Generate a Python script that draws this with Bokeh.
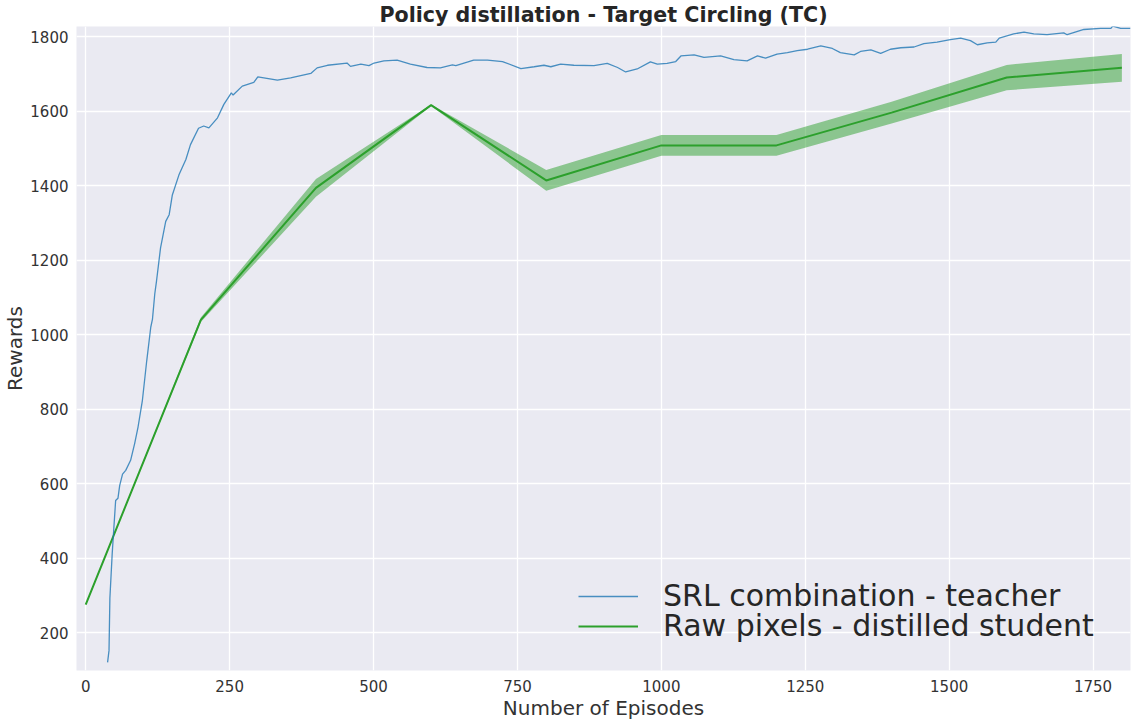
from bokeh.plotting import figure
from bokeh.models import Range1d, FixedTicker, Legend, LegendItem, ColumnDataSource
from bokeh.embed import file_html
from bokeh.resources import INLINE

# ---- data ----
teacher_x = [38, 40.5, 42, 46, 49, 52, 56, 59, 64, 69.5, 78, 85, 91, 98.5, 106, 113, 116, 120, 123, 130,
             139, 145, 150.5, 162, 174, 182, 196, 205, 214, 229, 240, 253, 256, 272, 292, 299, 333, 356,
             391, 402, 420, 454, 460, 478, 492, 501, 518, 541, 564, 593, 616, 637, 643, 674, 698, 724,
             756, 779, 796, 808, 825, 848, 883, 906, 924, 938, 958, 981, 993, 1010, 1025, 1034, 1057,
             1074, 1103, 1126, 1149, 1167, 1181, 1201, 1219, 1236, 1254, 1277, 1297, 1311, 1335, 1346,
             1364, 1381, 1398, 1416, 1439, 1456, 1479, 1502, 1520, 1537, 1549, 1566, 1581, 1587, 1612,
             1630, 1647, 1670, 1699, 1705, 1734, 1763, 1781, 1784, 1798, 1815]
teacher_y = [121, 153, 293, 412, 484, 555, 561, 595, 626, 636, 663, 708, 753, 824, 930, 1020, 1042, 1110,
             1144, 1233, 1304, 1322, 1375, 1429, 1470, 1510, 1554, 1560, 1555, 1582, 1618, 1649, 1643,
             1667, 1677, 1692, 1683, 1689, 1701, 1716, 1723, 1729, 1720, 1726, 1722, 1729, 1735, 1737,
             1726, 1717, 1716, 1724, 1722, 1737, 1737, 1733, 1714, 1719, 1723, 1719, 1726, 1723, 1722,
             1728, 1717, 1705, 1713, 1732, 1726, 1728, 1733, 1748, 1751, 1744, 1748, 1738, 1735, 1748,
             1742, 1753, 1757, 1762, 1766, 1775, 1768, 1757, 1751, 1760, 1764, 1755, 1766, 1770, 1772,
             1781, 1785, 1792, 1796, 1789, 1778, 1783, 1785, 1796, 1807, 1812, 1807, 1805, 1810, 1805,
             1819, 1822, 1822, 1828, 1822, 1822]

student_x = [0, 200, 400, 600, 800, 1000, 1200, 1400, 1600, 1800]
student_y = [276, 1040, 1394, 1616, 1414, 1508, 1508, 1596, 1690, 1716]
student_err = [0, 6, 24, 2, 28, 28, 28, 29, 34, 37]

x_ticks = [0, 250, 500, 750, 1000, 1250, 1500, 1750]
y_ticks = [200, 400, 600, 800, 1000, 1200, 1400, 1600, 1800]

title_text = "Policy distillation - Target Circling (TC)"
x_label = "Number of Episodes"
y_label = "Rewards"
teacher_label = "SRL combination - teacher"
student_label = "Raw pixels - distilled student"

FONT = "DejaVu Sans"
TEXT = "#262626"
X_MIN, X_MAX = -16, 1815
Y_MIN, Y_MAX = 99, 1827

p = figure(width=1132, height=723, output_backend="svg", toolbar_location=None,
           x_range=Range1d(X_MIN, X_MAX), y_range=Range1d(Y_MIN, Y_MAX),
           min_border_left=76, min_border_right=2, min_border_top=24, min_border_bottom=53)

p.background_fill_color = "#EAEAF2"
p.border_fill_color = "white"
p.outline_line_color = None

p.title.text = title_text
p.title.align = "center"
p.title.text_font = FONT
p.title.text_font_size = "20.6px"
p.title.text_font_style = "bold"
p.title.text_color = TEXT
p.title.standoff = 0
p.title.offset = 0

for ax in (p.xaxis, p.yaxis):
    ax.axis_line_color = None
    ax.major_tick_line_color = None
    ax.minor_tick_line_color = None
    ax.major_tick_out = 0
    ax.major_tick_in = 0
    ax.minor_tick_out = 0
    ax.minor_tick_in = 0
    ax.major_label_text_font = FONT
    ax.major_label_text_font_size = "15px"
    ax.major_label_text_color = "#333333"
    ax.axis_label_text_font = FONT
    ax.axis_label_text_font_size = "20px"
    ax.axis_label_text_font_style = "normal"
    ax.axis_label_text_color = "#333333"

p.xaxis.ticker = FixedTicker(ticks=x_ticks)
p.yaxis.ticker = FixedTicker(ticks=y_ticks)
p.xaxis.axis_label = x_label
p.yaxis.axis_label = y_label
p.xaxis.major_label_standoff = 9
p.xaxis.axis_label_standoff = 1
p.yaxis.major_label_standoff = 8
p.yaxis.axis_label_standoff = 0

p.grid.grid_line_color = "white"
p.grid.grid_line_width = 1.3

lower = [y - e for y, e in zip(student_y, student_err)]
upper = [y + e for y, e in zip(student_y, student_err)]
src = ColumnDataSource(dict(x=student_x, y=student_y, lo=lower, hi=upper))

p.varea(x="x", y1="lo", y2="hi", source=src, fill_color="#2ca02c", fill_alpha=0.5)
g = p.line(x="x", y="y", source=src, line_color="#2ca02c", line_width=2)
b = p.line(teacher_x, teacher_y, line_color="#1f77b4", line_alpha=0.8, line_width=1.3)


def make_legend(label, renderer, y_off):
    lg = Legend(items=[LegendItem(label=label, renderers=[renderer])], location=(502, y_off))
    lg.label_text_font = FONT
    lg.label_text_font_size = "30px"
    lg.label_text_color = TEXT
    lg.glyph_width = 60
    lg.label_standoff = 25
    lg.background_fill_alpha = 0
    lg.border_line_color = None
    lg.padding = 0
    lg.spacing = 0
    lg.margin = 0
    return lg


p.add_layout(make_legend(teacher_label, b, 57))
p.add_layout(make_legend(student_label, g, 27))

open("out.html", "w").write(file_html(p, INLINE))
